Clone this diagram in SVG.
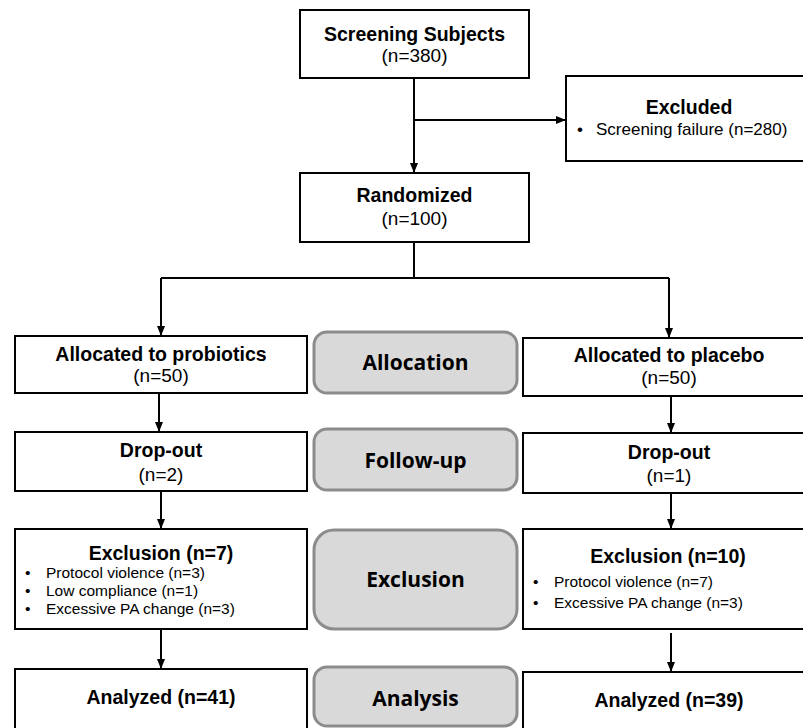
<svg xmlns="http://www.w3.org/2000/svg" width="803" height="728" viewBox="0 0 803 728">
<defs>
<marker id="ah" markerUnits="userSpaceOnUse" markerWidth="10" markerHeight="10" viewBox="0 0 10 10" refX="10" refY="5" orient="auto">
<path d="M0,1 L10,5 L0,9 Z" fill="#000"/>
</marker>
<style>
.box{fill:#fff;stroke:#000;stroke-width:2}
.phase{fill:#d9d9d9;stroke:#8c8c8c;stroke-width:3}
.b{font-family:"Liberation Sans",Arial,sans-serif;font-weight:bold;font-size:19.5px;fill:#000;text-anchor:middle}
.r{font-family:"Liberation Sans",Arial,sans-serif;font-size:19px;fill:#000;text-anchor:middle}
.s{font-family:"Liberation Sans",Arial,sans-serif;font-size:15.5px;fill:#000}
.s2{font-family:"Liberation Sans",Arial,sans-serif;font-size:17px;fill:#000}
.p{font-family:"Open Sans","Noto Sans",sans-serif;font-weight:bold;font-size:21px;fill:#000;text-anchor:middle}
.c{fill:none;stroke:#000;stroke-width:2}
</style>
</defs>
<rect width="803" height="728" fill="#fff"/>

<g id="connectors">
<line class="c" x1="414" y1="78" x2="414" y2="173" marker-end="url(#ah)"/>
<line class="c" x1="414" y1="120" x2="566" y2="120" marker-end="url(#ah)"/>
<polyline class="c" points="414,242 414,278"/>
<polyline class="c" points="161,278 669,278"/>
<line class="c" x1="161" y1="278" x2="161" y2="336" marker-end="url(#ah)"/>
<line class="c" x1="669" y1="278" x2="669" y2="338" marker-end="url(#ah)"/>
<line class="c" x1="159" y1="393" x2="159" y2="432" marker-end="url(#ah)"/>
<line class="c" x1="671" y1="396" x2="671" y2="433" marker-end="url(#ah)"/>
<line class="c" x1="161" y1="491" x2="161" y2="529" marker-end="url(#ah)"/>
<line class="c" x1="671" y1="493" x2="671" y2="529" marker-end="url(#ah)"/>
<line class="c" x1="161" y1="629" x2="161" y2="669" marker-end="url(#ah)"/>
<line class="c" x1="671" y1="633" x2="671" y2="672" marker-end="url(#ah)"/>
</g>

<g id="screening">
<rect class="box" x="300" y="10" width="229" height="68"/>
<text class="b" x="414.5" y="41">Screening Subjects</text>
<text class="r" x="414.5" y="62">(n=380)</text>
</g>

<g id="excluded">
<rect class="box" x="566" y="76" width="246" height="85"/>
<text class="b" x="689" y="114">Excluded</text>
<text class="s2" x="577" y="135">•</text>
<text class="s2" x="596" y="135">Screening failure (n=280)</text>
</g>

<g id="randomized">
<rect class="box" x="300" y="173" width="229" height="69"/>
<text class="b" x="414.5" y="202">Randomized</text>
<text class="r" x="414.5" y="225">(n=100)</text>
</g>

<g id="alloc-probiotics">
<rect class="box" x="15" y="336" width="292" height="57"/>
<text class="b" x="161" y="361">Allocated to probiotics</text>
<text class="r" x="161" y="382">(n=50)</text>
</g>

<g id="phase-allocation">
<rect class="phase" x="314" y="332" width="203" height="61" rx="13"/>
<text class="p" x="415.5" y="370">Allocation</text>
</g>

<g id="alloc-placebo">
<rect class="box" x="523" y="338" width="292" height="58"/>
<text class="b" x="669" y="362">Allocated to placebo</text>
<text class="r" x="669" y="384">(n=50)</text>
</g>

<g id="dropout-left">
<rect class="box" x="15" y="432" width="292" height="59"/>
<text class="b" x="161" y="457">Drop-out</text>
<text class="r" x="161" y="481">(n=2)</text>
</g>

<g id="phase-followup">
<rect class="phase" x="314" y="429" width="203" height="61" rx="13"/>
<text class="p" x="415.5" y="468">Follow-up</text>
</g>

<g id="dropout-right">
<rect class="box" x="523" y="433" width="292" height="60"/>
<text class="b" x="669" y="459">Drop-out</text>
<text class="r" x="669" y="482">(n=1)</text>
</g>

<g id="exclusion-left">
<rect class="box" x="15" y="529" width="292" height="100"/>
<text class="b" x="161" y="560">Exclusion (n=7)</text>
<text class="s" x="25" y="578">•</text>
<text class="s" x="46" y="578">Protocol violence (n=3)</text>
<text class="s" x="25" y="596">•</text>
<text class="s" x="46" y="596">Low compliance (n=1)</text>
<text class="s" x="25" y="614">•</text>
<text class="s" x="46" y="614">Excessive PA change (n=3)</text>
</g>

<g id="phase-exclusion">
<rect class="phase" x="314" y="530" width="203" height="99" rx="20"/>
<text class="p" x="415.5" y="587">Exclusion</text>
</g>

<g id="exclusion-right">
<rect class="box" x="523" y="529" width="292" height="100"/>
<text class="b" x="668" y="563">Exclusion (n=10)</text>
<text class="s" x="533" y="587">•</text>
<text class="s" x="554" y="587">Protocol violence (n=7)</text>
<text class="s" x="533" y="608">•</text>
<text class="s" x="554" y="608">Excessive PA change (n=3)</text>
</g>

<g id="analyzed-left">
<rect class="box" x="15" y="669" width="292" height="70"/>
<text class="b" x="161" y="704">Analyzed (n=41)</text>
</g>

<g id="phase-analysis">
<rect class="phase" x="314" y="667" width="203" height="59" rx="13"/>
<text class="p" x="415.5" y="706">Analysis</text>
</g>

<g id="analyzed-right">
<rect class="box" x="523" y="672" width="292" height="70"/>
<text class="b" x="669" y="707">Analyzed (n=39)</text>
</g>
</svg>
